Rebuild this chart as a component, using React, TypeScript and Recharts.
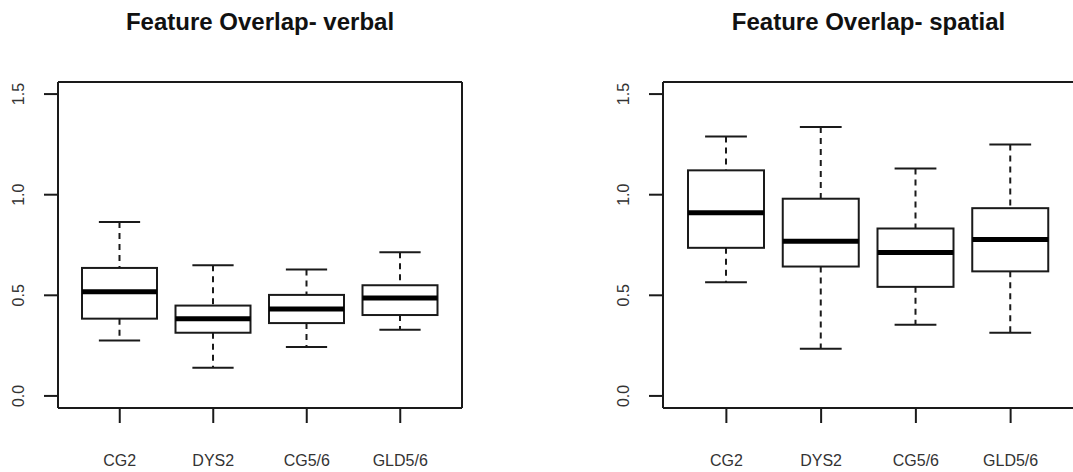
import { Bar, ComposedChart, Line, XAxis, YAxis } from "recharts";

const groups = ["CG2", "DYS2", "CG5/6", "GLD5/6"];
const yTicks = [0, 0.5, 1.0, 1.5];
const yDomain: [number, number] = [-0.06, 1.56];

// verbal panel (five-number summaries)
const verbalMin = [0.276, 0.14, 0.243, 0.329];
const verbalQ1 = [0.384, 0.314, 0.362, 0.402];
const verbalMedian = [0.518, 0.384, 0.432, 0.487];
const verbalQ3 = [0.636, 0.449, 0.502, 0.55];
const verbalMax = [0.864, 0.649, 0.628, 0.714];

// spatial panel
const spatialMin = [0.565, 0.234, 0.354, 0.314];
const spatialQ1 = [0.736, 0.643, 0.542, 0.619];
const spatialMedian = [0.91, 0.769, 0.713, 0.777];
const spatialQ3 = [1.121, 0.98, 0.832, 0.933];
const spatialMax = [1.289, 1.336, 1.13, 1.249];

const INK = "#1a1a1a";
const FONT = "'Liberation Sans', Arial, sans-serif";

type Row = { name: string; box: [number, number]; min: number; median: number; max: number };

function buildRows(min: number[], q1: number[], med: number[], q3: number[], max: number[]): Row[] {
  return groups.map((name, i) => ({
    name,
    box: [q1[i], q3[i]],
    min: min[i],
    median: med[i],
    max: max[i],
  }));
}

const verbalRows = buildRows(verbalMin, verbalQ1, verbalMedian, verbalQ3, verbalMax);
const spatialRows = buildRows(spatialMin, spatialQ1, spatialMedian, spatialQ3, spatialMax);

// draws an R-style box: the bar gives us q1..q3 in pixels, the rest follows from its scale
function BoxShape(props: any) {
  const { x, y, width, height, payload } = props;
  const top = Math.min(y, y + height);
  const h = Math.abs(height);
  const [q1, q3] = payload.box;
  const ppu = h / (q3 - q1);
  const py = (v: number) => top + (q3 - v) * ppu;
  const cx = x + width / 2;
  const cap = width * 0.275;
  return (
    <g>
      <line x1={cx} x2={cx} y1={py(payload.max)} y2={top} stroke={INK} strokeWidth={2} strokeDasharray="6 5" />
      <line x1={cx} x2={cx} y1={top + h} y2={py(payload.min)} stroke={INK} strokeWidth={2} strokeDasharray="6 5" />
      <line x1={cx - cap} x2={cx + cap} y1={py(payload.max)} y2={py(payload.max)} stroke={INK} strokeWidth={2} />
      <line x1={cx - cap} x2={cx + cap} y1={py(payload.min)} y2={py(payload.min)} stroke={INK} strokeWidth={2} />
      <rect x={x} y={top} width={width} height={h} fill="#fff" stroke={INK} strokeWidth={2} />
      <line x1={x} x2={x + width} y1={py(payload.median)} y2={py(payload.median)} stroke="#000" strokeWidth={5} />
    </g>
  );
}

function XTick(props: any) {
  const { x, y, payload } = props;
  return (
    <text x={x} y={y + 41} textAnchor="middle" fontSize={16} fontFamily={FONT} fill="#333">
      {payload.value}
    </text>
  );
}

function YTick(props: any) {
  const { x, y, payload } = props;
  return (
    <text
      transform={`translate(${x - 18},${y}) rotate(-90)`}
      textAnchor="middle"
      fontSize={16}
      fontFamily={FONT}
      fill="#333"
    >
      {Number(payload.value).toFixed(1)}
    </text>
  );
}

function Panel({
  rows,
  title,
  left,
  plotWidth,
  pad,
  barSize,
}: {
  rows: Row[];
  title: string;
  left: number;
  plotWidth: number;
  pad: number;
  barSize: number;
}) {
  const width = 58 + plotWidth + 1;
  const frame = { stroke: INK, strokeWidth: 2 };
  return (
    <div style={{ position: "absolute", left, top: 0, width, height: 472 }}>
      <div
        style={{
          position: "absolute",
          left: 58,
          top: 10,
          width: plotWidth,
          textAlign: "center",
          fontFamily: FONT,
          fontWeight: "bold",
          fontSize: 24,
          lineHeight: "24px",
          color: "#111",
          whiteSpace: "nowrap",
        }}
      >
        {title}
      </div>
      <ComposedChart
        width={width}
        height={472}
        data={rows}
        margin={{ top: 81, right: 0, bottom: 0, left: 0 }}
        barSize={barSize}
      >
        <XAxis
          dataKey="name"
          height={64}
          padding={{ left: pad, right: pad }}
          axisLine={frame}
          tickLine={frame}
          tickSize={15}
          tick={<XTick />}
          interval={0}
        />
        <XAxis
          xAxisId="top"
          orientation="top"
          dataKey="name"
          height={1}
          padding={{ left: pad, right: pad }}
          axisLine={frame}
          tickLine={false}
          tick={false}
        />
        <YAxis
          width={58}
          type="number"
          domain={yDomain}
          allowDataOverflow
          ticks={yTicks}
          axisLine={frame}
          tickLine={frame}
          tickSize={14}
          tick={<YTick />}
        />
        <YAxis
          yAxisId="right"
          orientation="right"
          width={1}
          type="number"
          domain={yDomain}
          allowDataOverflow
          ticks={yTicks}
          axisLine={frame}
          tickLine={false}
          tick={false}
        />
        <Bar dataKey="box" isAnimationActive={false} shape={<BoxShape />} />
        {/* invisible series so the top/right frame axes get drawn */}
        <Line
          xAxisId="top"
          yAxisId="right"
          dataKey="median"
          stroke="none"
          dot={false}
          activeDot={false}
          legendType="none"
          isAnimationActive={false}
        />
      </ComposedChart>
    </div>
  );
}

export default function App() {
  return (
    <div
      style={{
        position: "absolute",
        left: 0,
        top: 0,
        width: 1073,
        height: 472,
        overflow: "hidden",
        background: "#fff",
      }}
    >
      <Panel rows={verbalRows} title="Feature Overlap- verbal" left={0} plotWidth={404} pad={15} barSize={75} />
      <Panel rows={spatialRows} title="Feature Overlap- spatial" left={605} plotWidth={411} pad={16} barSize={76} />
    </div>
  );
}
